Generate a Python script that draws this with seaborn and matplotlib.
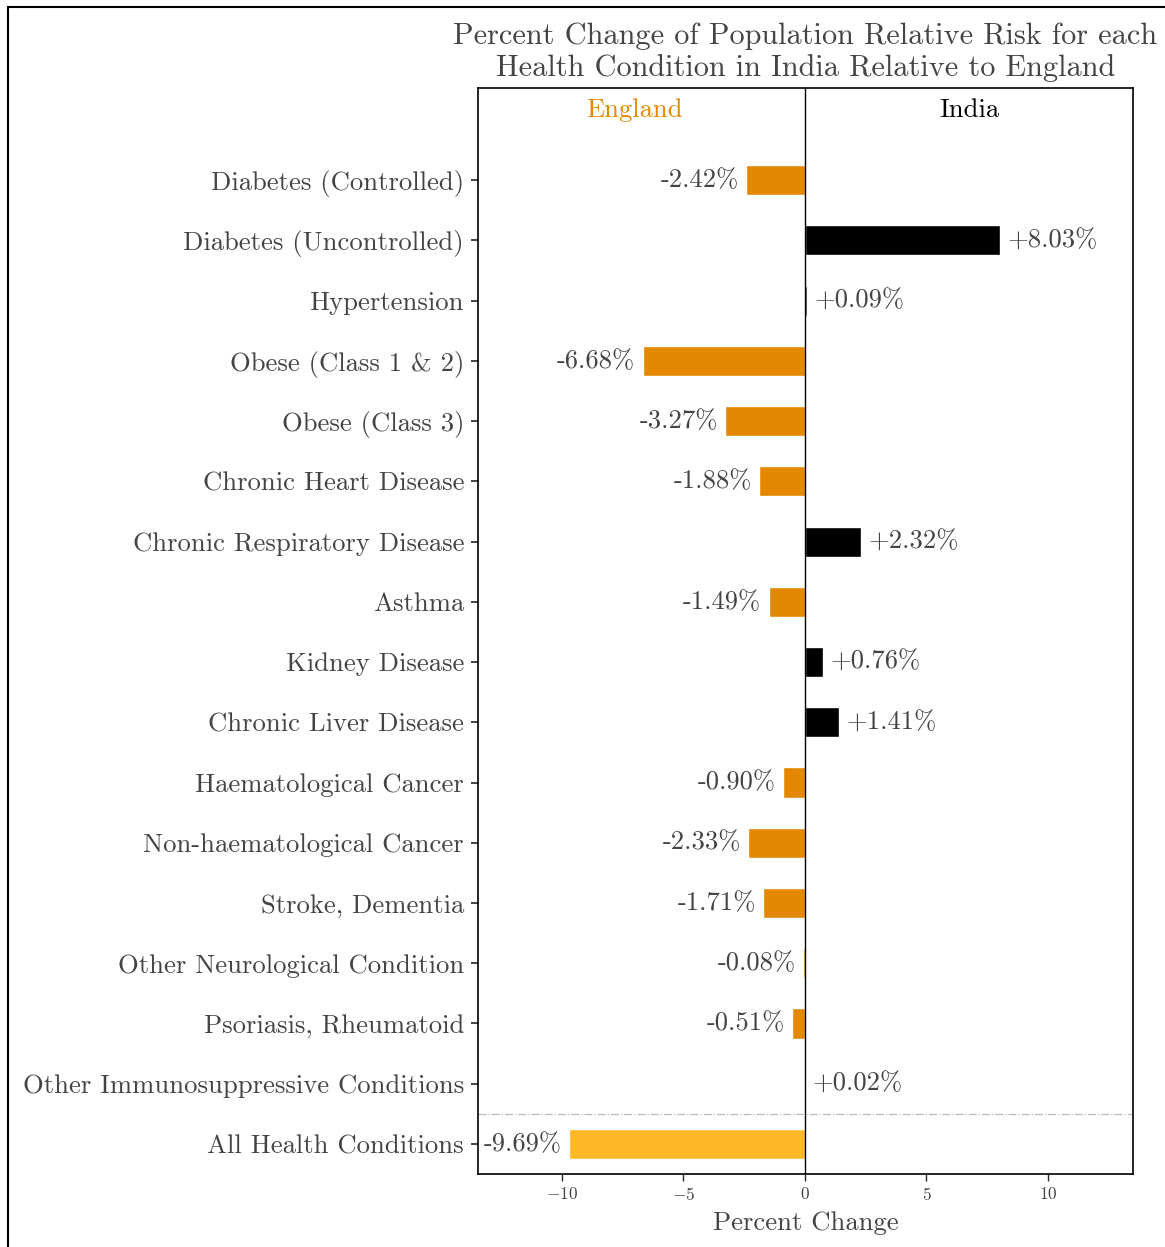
import matplotlib
matplotlib.use("Agg")
import matplotlib.pyplot as plt
import seaborn as sns
import pandas as pd
from matplotlib.patches import Rectangle

conditions = ['Diabetes (Controlled)', 'Diabetes (Uncontrolled)', 'Hypertension',
              'Obese (Class 1 & 2)', 'Obese (Class 3)', 'Chronic Heart Disease',
              'Chronic Respiratory Disease', 'Asthma', 'Kidney Disease',
              'Chronic Liver Disease', 'Haematological Cancer',
              'Non-haematological Cancer', 'Stroke, Dementia',
              'Other Neurological Condition', 'Psoriasis, Rheumatoid',
              'Other Immunosuppressive Conditions', 'All Health Conditions']
pct_change = [-2.42, 8.03, 0.09, -6.68, -3.27, -1.88, 2.32, -1.49, 0.76, 1.41,
              -0.90, -2.33, -1.71, -0.08, -0.51, 0.02, -9.69]

orange = '#E38800'
gold = '#FDB827'
grey_txt = '#444444'

df = pd.DataFrame({'condition': conditions, 'value': pct_change})
df['group'] = ['India' if v > 0 else 'England' for v in df['value']]
df.loc[df['condition'] == 'All Health Conditions', 'group'] = 'All'

sns.set_style('ticks')
plt.rcParams['font.family'] = ['cmr10', 'DejaVu Serif']
plt.rcParams['mathtext.fontset'] = 'cm'
plt.rcParams['axes.formatter.use_mathtext'] = True

fig = plt.figure(figsize=(11.65, 12.47), dpi=100)
ax = fig.add_axes([0.4103, 0.0585, 0.5622, 0.8709])

sns.barplot(data=df, x='value', y='condition', hue='group', dodge=False,
            palette={'England': orange, 'India': 'black', 'All': gold},
            width=0.5, orient='h', legend=False, ax=ax, saturation=1)

ax.set_xlim(-13.45, 13.5)
ax.set_ylim(16.5, -1.53)
ax.axvline(0, color='black', lw=1)
ax.axhline(15.5, color='#bbbbbb', lw=0.9, ls='-.')

fs = 19.2
for i, v in enumerate(pct_change):
    if v < 0:
        ax.text(v - 0.3, i, '-{:.2f}%'.format(abs(v)), ha='right', va='center',
                fontsize=fs, color=grey_txt)
    else:
        ax.text(v + 0.3, i, '+{:.2f}%'.format(v), ha='left', va='center',
                fontsize=fs, color=grey_txt)

ax.text(-7, -1.17, 'England', color=orange, fontsize=fs, ha='center', va='center')
ax.text(6.75, -1.17, 'India', color='black', fontsize=fs, ha='center', va='center')

ax.set_ylabel('')
ax.set_xlabel('Percent Change', fontsize=fs, color=grey_txt, labelpad=6)
ax.set_xticks([-10, -5, 0, 5, 10])
ax.tick_params(axis='y', labelsize=fs, labelcolor=grey_txt, length=5, width=1.2, pad=5)
ax.tick_params(axis='x', labelsize=12.5, labelcolor=grey_txt, length=5, width=1)
for s in ax.spines.values():
    s.set_linewidth(1.2)
    s.set_color('black')

ax.set_title('Percent Change of Population Relative Risk for each\nHealth Condition in India Relative to England',
             fontsize=21.8, color=grey_txt, linespacing=1.2, pad=8.5)

# outer figure frame
fig.patches.append(Rectangle((8 / 1165, -0.05), 1.2, 1 - 7 / 1247 + 0.05,
                             transform=fig.transFigure, fill=False,
                             edgecolor='black', lw=1.5, zorder=0))

fig.savefig('out.png', dpi=100)
